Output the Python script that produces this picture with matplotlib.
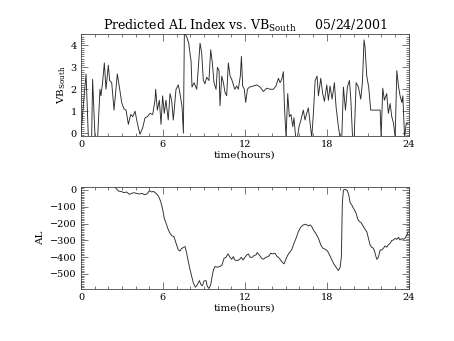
import matplotlib
matplotlib.use("Agg")
import matplotlib.pyplot as plt
from matplotlib.ticker import MultipleLocator

# southward IMF driver (hours, value)
vb_hours = [0.00, 0.37, 0.54, 0.78, 0.85, 1.03, 1.22, 1.39, 1.46, 1.58, 1.71, 1.83,
            2.00, 2.10, 2.25, 2.42, 2.66, 2.80, 2.98, 3.15, 3.30, 3.47, 3.64, 3.79,
            3.96, 4.08, 4.20, 4.32, 4.52, 4.69, 4.86, 5.05, 5.25, 5.42, 5.47, 5.59,
            5.74, 5.86, 5.98, 6.10, 6.22, 6.39, 6.52, 6.64, 6.76, 6.96, 7.13, 7.25,
            7.40, 7.50, 7.57, 7.74, 7.89, 7.99, 8.06, 8.13, 8.28, 8.48, 8.72, 8.84,
            8.96, 9.08, 9.20, 9.37, 9.50, 9.62, 9.74, 9.89, 9.99, 10.11, 10.18, 10.31,
            10.43, 10.55, 10.67, 10.79, 10.92, 11.04, 11.26, 11.40, 11.52, 11.67, 11.75,
            11.84, 11.96, 12.06, 12.19, 12.33, 12.63, 12.87, 13.12, 13.36, 13.60, 13.85,
            14.09, 14.28, 14.46, 14.58, 14.70, 14.82, 14.90, 15.02, 15.14, 15.26, 15.38,
            15.51, 15.60, 15.72, 15.85, 15.97, 16.11, 16.28, 16.41, 16.53, 16.65, 16.78,
            16.90, 17.02, 17.15, 17.29, 17.39, 17.56, 17.70, 17.83, 18.00, 18.12, 18.24,
            18.39, 18.56, 18.68, 18.85, 18.97, 19.10, 19.22, 19.37, 19.51, 19.66, 19.76,
            19.89, 20.01, 20.15, 20.32, 20.49, 20.61, 20.73, 20.80, 20.93, 21.07, 21.22,
            21.91, 21.98, 22.10, 22.22, 22.39, 22.51, 22.64, 22.76, 22.89, 23.01, 23.13,
            23.25, 23.37, 23.50, 23.57, 23.70, 23.82, 23.94]
vb_south = [0.00, 2.70, -0.20, -0.20, 2.45, -0.20, -0.20, 2.00, 1.70, 2.30, 3.20, 2.00,
            3.10, 2.40, 2.30, 1.05, 2.70, 2.15, 1.40, 1.10, 1.05, 0.40, 0.85, 0.75,
            1.00, 0.60, 0.25, -0.05, 0.25, 0.70, 0.75, 0.90, 0.85, 1.50, 2.00, 1.05,
            1.50, 0.40, 1.70, 0.90, 1.50, 0.60, 1.80, 1.50, 0.60, 2.00, 2.20, 1.80,
            1.20, 0.00, 4.55, 4.40, 4.10, 3.60, 3.30, 2.10, 2.30, 2.00, 4.10, 3.65,
            2.40, 2.25, 2.55, 2.40, 3.80, 3.20, 2.30, 2.00, 3.00, 2.85, 1.25, 2.60,
            2.30, 1.85, 1.70, 3.20, 2.60, 2.45, 2.00, 2.15, 2.00, 2.60, 3.50, 2.15,
            2.00, 1.40, 2.00, 2.10, 2.15, 2.20, 2.10, 1.90, 2.05, 2.00, 2.00, 2.15,
            2.50, 2.30, 2.45, 2.80, 1.20, -0.20, 1.80, 0.75, 0.85, 0.30, 0.70, -0.20,
            -0.20, 0.30, 0.60, 1.05, 0.60, 0.90, 1.15, 0.45, -0.20, 0.90, 2.40, 2.60,
            1.70, 2.50, 1.80, 1.45, 2.20, 1.50, 2.15, 1.55, 2.30, 1.20, 0.30, -0.20,
            -0.20, 2.10, 1.05, 2.10, 2.40, 1.55, -0.20, -0.20, 2.30, 2.10, 1.55, 2.30,
            4.25, 3.95, 2.60, 2.10, 1.05, 1.05, -0.20, 2.05, 1.50, 1.80, 0.90, 1.35,
            0.75, 0.45, -0.20, 2.85, 2.15, 1.70, 1.40, 1.70, -0.20, 0.45, 0.45]

# auroral electrojet index (hours, nT)
al_hours = [2.50, 2.74, 2.98, 3.15, 3.35, 3.54, 3.71, 3.88, 4.08, 4.27, 4.47, 4.64,
            4.83, 5.01, 5.18, 5.30, 5.50, 5.67, 5.84, 5.98, 6.10, 6.23, 6.40, 6.52,
            6.64, 6.81, 6.96, 7.13, 7.25, 7.37, 7.62, 7.74, 7.86, 7.99, 8.11, 8.23,
            8.38, 8.52, 8.67, 8.79, 8.89, 9.01, 9.16, 9.25, 9.38, 9.50, 9.60, 9.70,
            9.82, 9.99, 10.18, 10.33, 10.48, 10.62, 10.77, 10.92, 11.04, 11.16, 11.26,
            11.45, 11.62, 11.75, 11.87, 11.99, 12.14, 12.26, 12.38, 12.55, 12.67,
            12.82, 12.90, 13.06, 13.23, 13.36, 13.53, 13.72, 13.90, 14.02, 14.21,
            14.33, 14.53, 14.70, 14.87, 14.99, 15.11, 15.26, 15.43, 15.60, 15.75,
            15.92, 16.09, 16.28, 16.46, 16.65, 16.78, 16.90, 17.02, 17.22, 17.39,
            17.56, 17.71, 17.88, 18.05, 18.24, 18.37, 18.56, 18.75, 18.85, 18.98,
            19.07, 19.14, 19.22, 19.37, 19.51, 19.61, 19.71, 19.83, 19.91, 20.03,
            20.15, 20.27, 20.39, 20.51, 20.68, 20.80, 20.93, 21.05, 21.17, 21.29,
            21.42, 21.54, 21.66, 21.78, 21.91, 22.03, 22.15, 22.27, 22.39, 22.51,
            22.64, 22.76, 22.88, 23.01, 23.13, 23.25, 23.37, 23.50, 23.62, 23.74,
            23.86, 23.96]
al_index = [16, -6, -10, -16, -12, -26, -20, -16, -20, -24, -20, -28, -24, -4, -12,
            -8, -20, -36, -69, -115, -169, -198, -238, -258, -272, -278, -317, -357,
            -363, -349, -337, -377, -427, -476, -516, -555, -579, -565, -540, -565,
            -571, -542, -540, -575, -587, -565, -516, -476, -456, -460, -456, -446,
            -407, -401, -381, -401, -413, -397, -417, -421, -413, -401, -417, -403,
            -387, -381, -401, -401, -391, -387, -373, -387, -407, -413, -401, -397,
            -377, -381, -377, -393, -407, -427, -440, -417, -393, -373, -357, -317,
            -288, -248, -222, -208, -204, -214, -208, -218, -238, -262, -288, -327,
            -347, -353, -363, -393, -417, -446, -468, -480, -460, -397, -79, 0, 4,
            -4, -30, -75, -89, -103, -119, -139, -174, -188, -194, -218, -234, -248,
            -288, -327, -341, -347, -377, -413, -401, -357, -357, -347, -333, -341,
            -327, -317, -301, -298, -288, -294, -282, -298, -290, -294, -288, -268,
            -248]

plt.rcParams['font.family'] = ['DejaVu Serif']
plt.rcParams['mathtext.fontset'] = 'dejavuserif'
plt.rcParams['mathtext.default'] = 'regular'

fig = plt.figure(figsize=(4.54, 3.41), dpi=100)
ax1 = fig.add_axes([0.1784, 0.6012, 0.7218, 0.2991])
ax2 = fig.add_axes([0.1784, 0.1525, 0.7218, 0.2982])

line_kw = dict(color='#2a2a2a', linewidth=0.65)
ax1.plot(vb_hours, vb_south, **line_kw)
ax2.plot(al_hours, al_index, **line_kw)

ax1.set_ylim(-0.13, 4.52)
ax2.set_ylim(-590, 16)

for ax in (ax1, ax2):
    ax.set_xlim(0, 24)
    ax.xaxis.set_major_locator(MultipleLocator(6))
    ax.xaxis.set_minor_locator(MultipleLocator(1))
    ax.tick_params(which='both', direction='in', top=True, right=True,
                   labelsize=7, color='#444444', width=0.5, pad=3)
    ax.tick_params(which='major', length=5)
    ax.tick_params(which='minor', length=2.5)
    for sp in ax.spines.values():
        sp.set_linewidth(0.6)
        sp.set_color('#444444')
    ax.set_xlabel('time(hours)', fontsize=7.5, labelpad=1)

ax1.yaxis.set_major_locator(MultipleLocator(1))
ax1.yaxis.set_minor_locator(MultipleLocator(0.1))
ax2.yaxis.set_major_locator(MultipleLocator(100))
ax2.yaxis.set_minor_locator(MultipleLocator(10))

ax1.set_ylabel('VB$_{South}$', fontsize=7.5, labelpad=2)
ax2.set_ylabel('AL', fontsize=7.5, labelpad=4)
ax1.set_title('Predicted AL Index vs. VB$_{South}$     05/24/2001',
              fontsize=9, pad=3)

fig.savefig('out.png', dpi=100)
